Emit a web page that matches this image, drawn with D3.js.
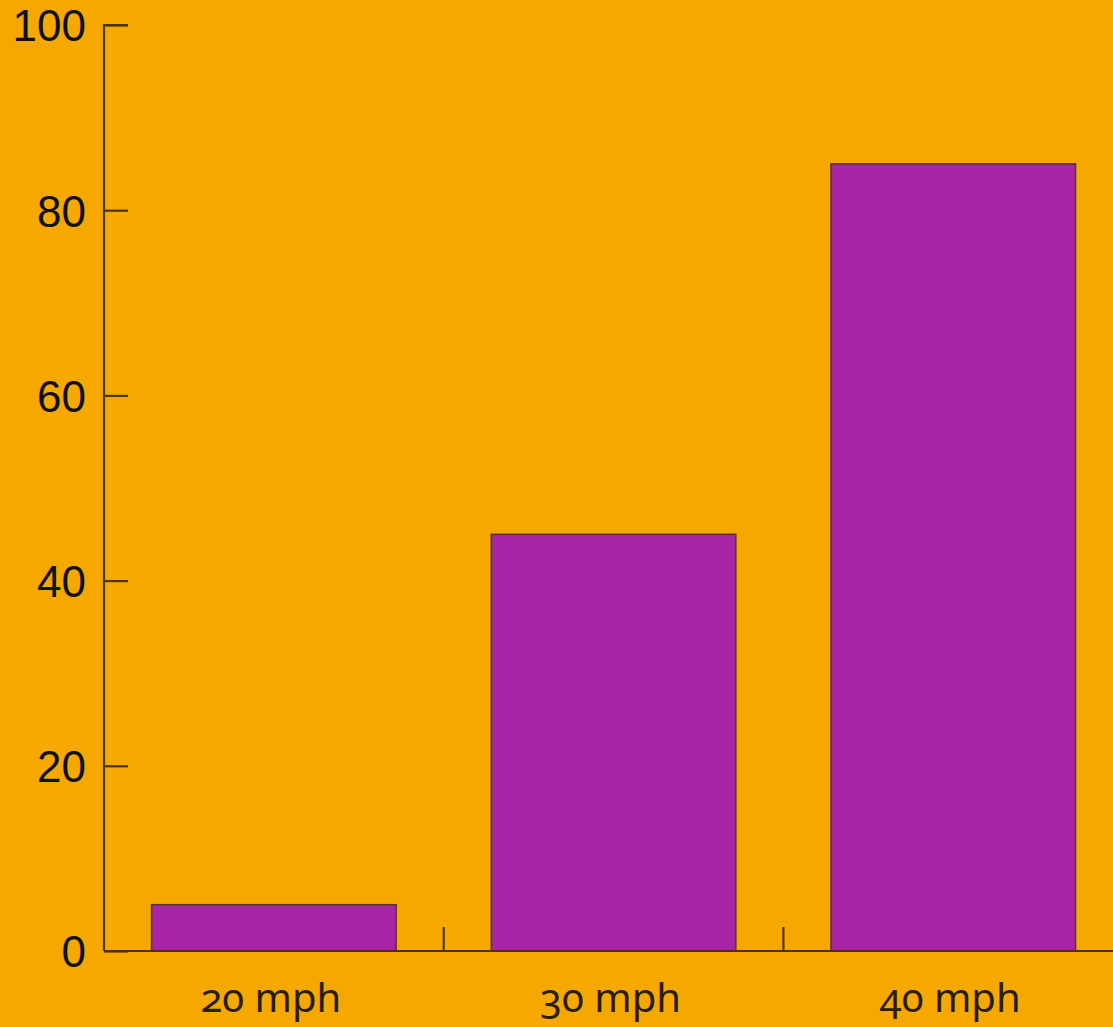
<!DOCTYPE html>
<html lang="en">
<head>
<meta charset="utf-8">
<title>Speed chart</title>
<script src="https://cdnjs.cloudflare.com/ajax/libs/d3/7.8.5/d3.min.js"></script>
<style>
  html, body { margin: 0; padding: 0; background: #F5A800; }
  svg { display: block; }
  .ylab { font-family: "Liberation Sans", Arial, sans-serif; font-size: 44px; fill: #111; }
  .xlab { font-family: "Noto Sans", sans-serif; font-size: 40px; fill: #2a1d05;
          font-variant-numeric: oldstyle-nums; font-feature-settings: "onum" 1; }
</style>
</head>
<body>
<svg id="chart" width="1113" height="1027"></svg>
<script>
// data
var categories = ["20 mph", "30 mph", "40 mph"];
var values = [5, 45, 85];
var yTicks = [0, 20, 40, 60, 80, 100];

var width = 1113, height = 1027;
var plotLeft = 104, plotBottom = 951, plotTop = 25;

var svg = d3.select("#chart");

var x = d3.scaleBand().domain(categories).range([plotLeft, plotLeft + 3 * 339.7]);
var y = d3.scaleLinear().domain([0, 100]).range([plotBottom, plotTop]);

var axisColor = "#4a3408";

// bars
var inset = x.bandwidth() * 0.14;
svg.selectAll("rect.bar")
  .data(values)
  .enter().append("rect")
  .attr("class", "bar")
  .attr("x", function(d, i) { return x(categories[i]) + inset; })
  .attr("width", x.bandwidth() - 2 * inset)
  .attr("y", function(d) { return y(d); })
  .attr("height", function(d) { return plotBottom - y(d); })
  .style("fill", "#A626A6")
  .style("stroke", "#5a3418")
  .style("stroke-width", 1.5);

// y axis
var yAxis = d3.axisLeft(y).tickValues(yTicks).tickSize(-24).tickPadding(18);
var yg = svg.append("g").attr("transform", "translate(" + plotLeft + ",0)").call(yAxis);
yg.select(".domain").attr("d", "M24," + plotTop + "H0V" + plotBottom).style("stroke", axisColor).style("stroke-width", 2.2);
yg.selectAll(".tick line").style("stroke", axisColor).style("stroke-width", 2.2);
yg.selectAll(".tick text").attr("class", "ylab").attr("dy", "0.36em").attr("fill", null);

// x axis line
svg.append("line")
  .attr("x1", plotLeft).attr("x2", width)
  .attr("y1", plotBottom).attr("y2", plotBottom)
  .style("stroke", axisColor).style("stroke-width", 2.2);

// boundary ticks between categories
svg.selectAll("line.xtick")
  .data(categories.slice(1))
  .enter().append("line")
  .attr("class", "xtick")
  .attr("x1", function(d) { return x(d); }).attr("x2", function(d) { return x(d); })
  .attr("y1", plotBottom).attr("y2", plotBottom - 24)
  .style("stroke", axisColor).style("stroke-width", 2.2);

// category labels
svg.selectAll("text.xlab")
  .data(categories)
  .enter().append("text")
  .attr("class", "xlab")
  .attr("x", function(d) { return x(d) + x.bandwidth() / 2 - 3; })
  .attr("y", 1012)
  .attr("text-anchor", "middle")
  .text(function(d) { return d; });
</script>
</body>
</html>
